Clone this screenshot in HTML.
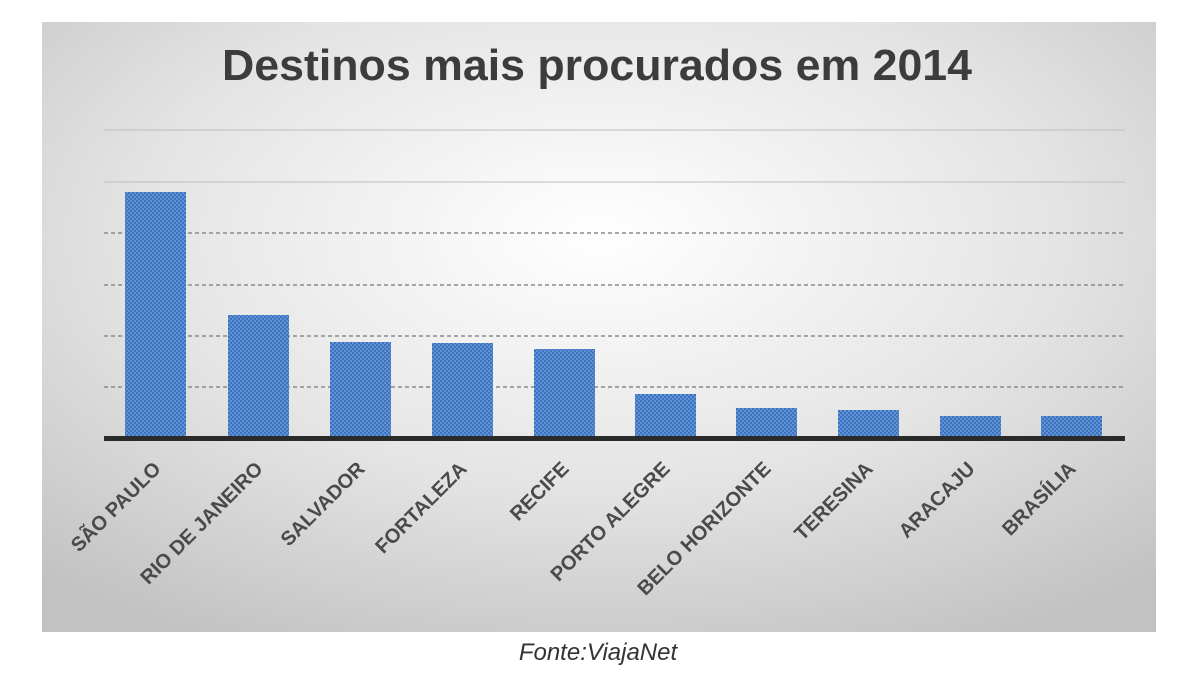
<!DOCTYPE html>
<html><head><meta charset="utf-8"><style>
html,body{margin:0;padding:0;background:#fff;}
svg{display:block;}
</style></head><body>
<svg width="1200" height="675" viewBox="0 0 1200 675" xmlns="http://www.w3.org/2000/svg">
<defs>
<radialGradient id="bg" cx="0.5" cy="0.35" r="0.75">
<stop offset="0" stop-color="#ffffff"/>
<stop offset="0.55" stop-color="#e4e4e4"/>
<stop offset="1" stop-color="#c2c2c2"/>
</radialGradient>
<pattern id="dots" width="4" height="4" patternUnits="userSpaceOnUse">
<rect width="4" height="4" fill="#5d93d8"/>
<rect x="0" y="0" width="2" height="2" fill="#3f72b8"/>
<rect x="2" y="2" width="2" height="2" fill="#3f72b8"/>
</pattern>
</defs>
<rect x="42" y="22" width="1114" height="610" fill="url(#bg)"/>
<text x="597" y="80" text-anchor="middle" font-family="Liberation Sans, sans-serif" font-weight="bold" font-size="44" fill="#3c3c3c" textLength="750" lengthAdjust="spacingAndGlyphs">Destinos mais procurados em 2014</text>
<g stroke="#bdbdbd" stroke-width="1">
<line x1="104" y1="130" x2="1125" y2="130"/>
<line x1="104" y1="182" x2="1125" y2="182"/>
</g>
<g stroke="#8a8a8a" stroke-width="1.5" stroke-dasharray="4,3">
<line x1="104" y1="233" x2="1125" y2="233"/>
<line x1="104" y1="285" x2="1125" y2="285"/>
<line x1="104" y1="336" x2="1125" y2="336"/>
<line x1="104" y1="387" x2="1125" y2="387"/>
</g>
<g fill="url(#dots)">
<rect x="125" y="192" width="61" height="246"/>
<rect x="228" y="315" width="61" height="123"/>
<rect x="330" y="342" width="61" height="96"/>
<rect x="432" y="343" width="61" height="95"/>
<rect x="534" y="349" width="61" height="89"/>
<rect x="635" y="394" width="61" height="44"/>
<rect x="736" y="408" width="61" height="30"/>
<rect x="838" y="410" width="61" height="28"/>
<rect x="940" y="416" width="61" height="22"/>
<rect x="1041" y="416" width="61" height="22"/>
</g>
<rect x="104" y="436" width="1021" height="5" fill="#2a2a2a"/>
<g font-family="Liberation Sans, sans-serif" font-size="20" font-weight="bold" fill="#4a4a4a" text-anchor="end">
<text transform="translate(162,470) rotate(-45)">SÃO PAULO</text>
<text transform="translate(264,470) rotate(-45)">RIO DE JANEIRO</text>
<text transform="translate(366,470) rotate(-45)">SALVADOR</text>
<text transform="translate(468,470) rotate(-45)">FORTALEZA</text>
<text transform="translate(570,470) rotate(-45)">RECIFE</text>
<text transform="translate(671,470) rotate(-45)">PORTO ALEGRE</text>
<text transform="translate(772,470) rotate(-45)">BELO HORIZONTE</text>
<text transform="translate(874,470) rotate(-45)">TERESINA</text>
<text transform="translate(976,470) rotate(-45)">ARACAJU</text>
<text transform="translate(1077,470) rotate(-45)">BRASÍLIA</text>
</g>
<text x="598" y="660" text-anchor="middle" font-family="Liberation Sans, sans-serif" font-style="italic" font-size="24" fill="#333">Fonte:ViajaNet</text>
</svg>
</body></html>
